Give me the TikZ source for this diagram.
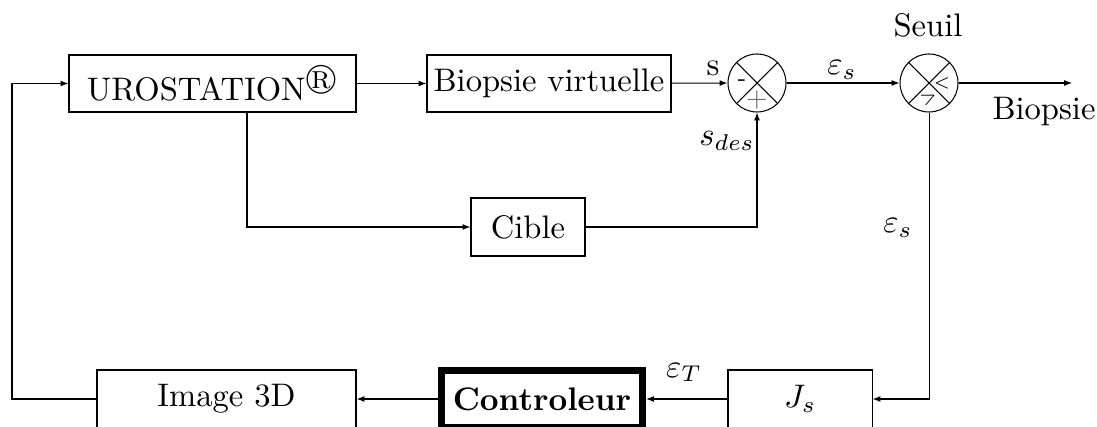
\documentclass[tikz,border=0pt]{standalone}
\usepackage{amssymb}
\usetikzlibrary{arrows.meta}
\newdimen\pxu \pxu=0.3067pt
\begin{document}
\begin{tikzpicture}[x=\pxu,y=-\pxu, line width=0.32pt,
  blk/.style={draw, rectangle, inner sep=0pt, minimum height=57\pxu},
  sumc/.style={draw, circle, inner sep=0pt, minimum size=58\pxu},
  arr/.style={-{Latex[length=2.4pt,width=1.8pt]}},
  sgn/.style={font=\tiny, inner sep=0pt}]
\useasboundingbox (0,0) rectangle (1097,427);
% blocks
\node[blk, minimum width=287\pxu] (uro) at (212.5,83.5) {UROSTATION$^{\circledR}$};
\node[blk, minimum width=244\pxu] (bio) at (549,83.5) {Biopsie virtuelle};
\node[blk, minimum width=114\pxu, minimum height=58\pxu] (cib) at (528,227) {Cible};
\node[sumc] (s1) at (757,83) {};
\node[sumc] (s2) at (929,83) {};
\node[blk, minimum width=144\pxu, minimum height=58\pxu] (js) at (800,399) {$J_s$};
\node[blk, minimum width=201\pxu, minimum height=57\pxu, line width=2.15pt] (ctrl) at (542,399) {\textbf{Controleur}};
\node[blk, minimum width=259\pxu, minimum height=58\pxu] (img) at (226.5,399) {Image 3D};
% junction crosses
\draw (s1.north west) -- (s1.south east) (s1.north east) -- (s1.south west);
\draw (s2.north west) -- (s2.south east) (s2.north east) -- (s2.south west);
\path (s1) ++(-15,0) node[font=\scriptsize, inner sep=0pt] (m1) {-};
\path (s1) ++(0,17) node[font=\footnotesize, inner sep=0pt, text=black!55] (p1) {$+$};
\path (s2) ++(13,0) node[sgn] (lt) {$<$};
\path (s2) ++(0,15) node[sgn, rotate=25] (gt) {$>$};
% coordinates
\coordinate (br) at (247,0);
\coordinate (lft) at (12,0);
\coordinate (out) at (1072,83);
% connectors
\draw[arr] (uro) -- (bio);
\draw[arr] (bio) -- (s1);
\draw[arr] (s1) -- (s2);
\draw[arr] (s2) -- (out);
\draw[arr] (br |- uro.south) |- (cib.west);
\draw[arr] (cib.east) -| (s1.south);
\draw[arr] (s2.south) |- (js.east);
\draw[arr] (js) -- (ctrl);
\draw[arr] (ctrl) -- (img);
\draw[arr] (img.west) -- (img.west -| lft) |- (uro.west);
% labels
\node[anchor=base] (ls) at (713,76) {s};
\node[anchor=base] (lsd) at (727,146) {$s_{des}$};
\node[anchor=base] (le1) at (842,75) {$\varepsilon_s$};
\node[anchor=base] (seuil) at (928,37) {Seuil};
\node[anchor=base] (biop) at (1044,120) {Biopsie};
\node[anchor=base] (le2) at (898,233) {$\varepsilon_s$};
\node[anchor=base] (leT) at (684,377) {$\varepsilon_T$};
\end{tikzpicture}
\end{document}
